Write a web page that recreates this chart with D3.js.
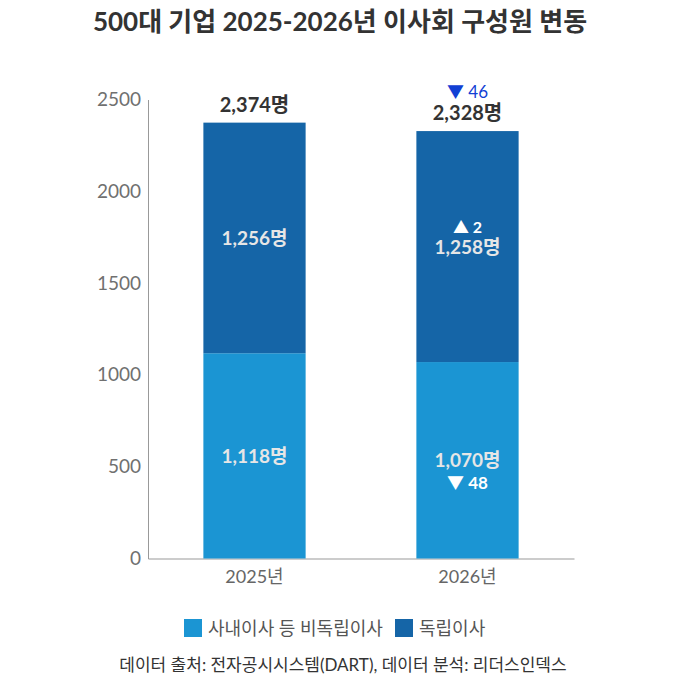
<!DOCTYPE html>
<html>
<head>
<meta charset="utf-8">
<script src="https://cdn.jsdelivr.net/npm/d3@7"></script>
<style>
  body { margin: 0; background: #fff; }
  svg text { font-family: Lato, "Noto Sans CJK KR", sans-serif; }
</style>
</head>
<body>
<svg id="chart" width="690" height="680"></svg>
<script>
const years = ["2025년", "2026년"];
const nonIndependent = [1118, 1070];
const independent = [1256, 1258];
const totals = [2374, 2328];
const yTicks = [0, 500, 1000, 1500, 2000, 2500];
const seriesNames = ["사내이사 등 비독립이사", "독립이사"];
const colors = ["#1b95d3", "#1565a7"];

let width = 690;
let height = 680;
let svg = d3.select("#chart");

let x = d3.scaleBand().domain(years).range([148, 574]).paddingInner(0.52).paddingOuter(0.26);
let y = d3.scaleLinear().domain([0, 2500]).range([558.5, 99.5]);

// title
svg.append("text")
  .attr("x", 340).attr("y", 31)
  .attr("text-anchor", "middle")
  .attr("font-size", 26).attr("font-weight", "bold")
  .attr("fill", "#333")
  .text("500대 기업 2025-2026년 이사회 구성원 변동");

// y axis
let yAxis = svg.append("g")
  .attr("transform", "translate(148,0)")
  .call(d3.axisLeft(y).tickValues(yTicks).tickSize(0).tickPadding(7).tickFormat(d3.format("d")));
yAxis.select(".domain").attr("stroke", "#999");
yAxis.selectAll("text").attr("font-size", 19).attr("fill", "#707070")
  .style("font-family", "Lato, sans-serif");

// x axis
let xAxis = svg.append("g")
  .attr("transform", "translate(0,558.5)")
  .call(d3.axisBottom(x).tickSize(0).tickPadding(12));
xAxis.select(".domain").attr("stroke", "#999");
xAxis.selectAll("text").attr("font-size", 18).attr("fill", "#666");

// stacked bars
let rows = years.map((yr, i) => ({ year: yr, a: nonIndependent[i], b: independent[i] }));
let stack = d3.stack().keys(["a", "b"])(rows);

svg.append("g").selectAll("g")
  .data(stack)
  .enter().append("g")
  .attr("fill", (d, i) => colors[i])
  .selectAll("rect")
  .data(d => d)
  .enter().append("rect")
  .attr("x", d => x(d.data.year))
  .attr("width", x.bandwidth())
  .attr("y", d => y(d[1]))
  .attr("height", d => y(d[0]) - y(d[1]));

const fmt = d3.format(",");

// segment labels
stack.forEach((s, si) => {
  s.forEach((d, i) => {
    let cx = x(d.data.year) + x.bandwidth() / 2;
    let cy = (y(d[0]) + y(d[1])) / 2;
    svg.append("text")
      .attr("x", cx).attr("y", cy + 7)
      .attr("text-anchor", "middle")
      .attr("font-size", 19).attr("font-weight", "bold")
      .attr("fill", "#e6e6e6")
      .text(fmt(d[1] - d[0]) + "명");
  });
});

// changes inside 2026 segments
let cx2 = x(years[1]) + x.bandwidth() / 2;
let upMid = (y(totals[1]) + y(nonIndependent[1])) / 2;
let lowMid = (y(nonIndependent[1]) + y(0)) / 2;
let dInd = independent[1] - independent[0];
let dNon = nonIndependent[1] - nonIndependent[0];

svg.append("text")
  .attr("x", cx2).attr("y", upMid - 14)
  .attr("text-anchor", "middle")
  .attr("font-size", 16).attr("font-weight", "bold")
  .attr("fill", "#fff")
  .text("▲ " + Math.abs(dInd));

svg.append("text")
  .attr("x", cx2).attr("y", lowMid + 29)
  .attr("text-anchor", "middle")
  .attr("font-size", 17).attr("font-weight", "bold")
  .attr("fill", "#fff")
  .text("▼ " + Math.abs(dNon));

// totals
totals.forEach((t, i) => {
  svg.append("text")
    .attr("x", x(years[i]) + x.bandwidth() / 2)
    .attr("y", y(t) - 11)
    .attr("text-anchor", "middle")
    .attr("font-size", 20).attr("font-weight", "bold")
    .attr("fill", "#333")
    .text(fmt(t) + "명");
});

svg.append("text")
  .attr("x", cx2).attr("y", y(totals[1]) - 33)
  .attr("text-anchor", "middle")
  .attr("font-size", 17)
  .attr("fill", "#1240d4")
  .text("▼ " + Math.abs(totals[1] - totals[0]));

// legend
let legend = svg.append("g").attr("transform", "translate(184,619)");
let lx = [0, 211];
seriesNames.forEach((n, i) => {
  legend.append("rect").attr("x", lx[i]).attr("y", 0).attr("width", 18).attr("height", 18).attr("fill", colors[i]);
  legend.append("text").attr("x", lx[i] + 24).attr("y", 16)
    .attr("font-size", 18).attr("fill", "#555").text(n);
});

// source
svg.append("text")
  .attr("x", 343).attr("y", 671)
  .attr("text-anchor", "middle")
  .attr("font-size", 17).attr("fill", "#333")
  .text("데이터 출처: 전자공시시스템(DART), 데이터 분석: 리더스인덱스");
</script>
</body>
</html>
